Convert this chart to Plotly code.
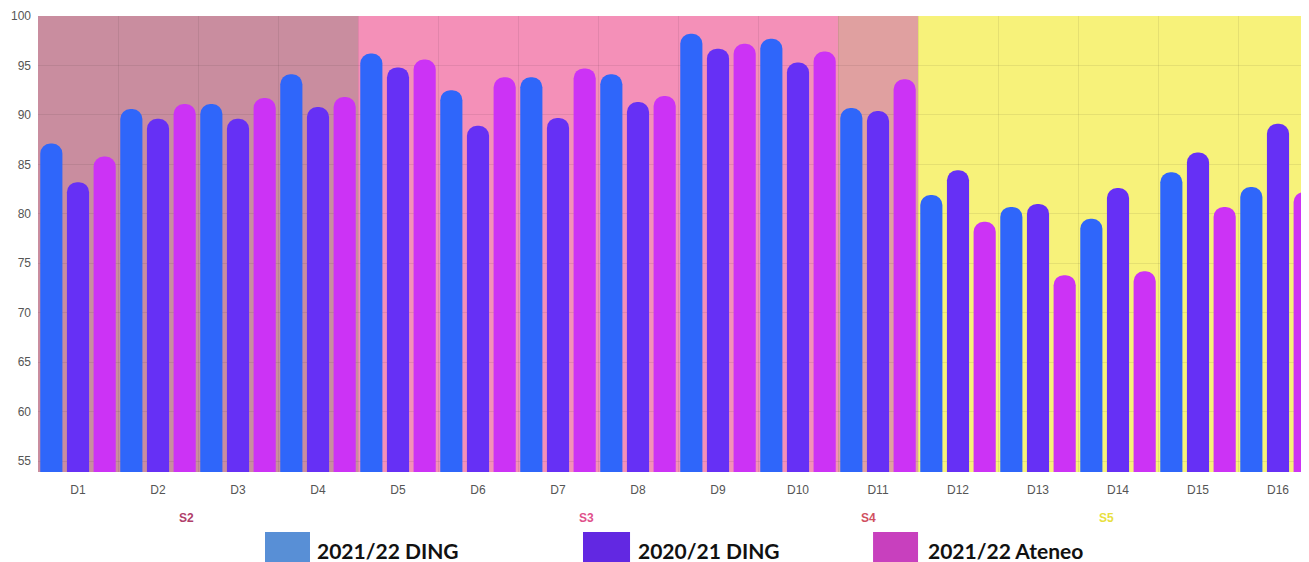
import plotly.graph_objects as go

categories = ["D1","D2","D3","D4","D5","D6","D7","D8","D9","D10","D11","D12","D13","D14","D15","D16"]
ding_2122 = [87.1, 90.6, 91.1, 94.1, 96.2, 92.5, 93.8, 94.1, 98.2, 97.7, 90.7, 81.9, 80.7, 79.5, 84.2, 82.7]
ding_2021 = [83.2, 89.6, 89.6, 90.8, 94.8, 88.9, 89.7, 91.3, 96.7, 95.3, 90.4, 84.4, 81.0, 82.6, 86.2, 89.1]
ateneo_2122 = [85.8, 91.1, 91.7, 91.8, 95.6, 93.8, 94.7, 91.9, 97.2, 96.4, 93.6, 79.2, 73.8, 74.2, 80.7, 82.2]
series_names = ["2021/22 DING", "2020/21 DING", "2021/22 Ateneo"]
sections = ["S2", "S3", "S4", "S5"]
section_spans = [(0, 3), (4, 9), (10, 10), (11, 15)]
y_ticks = [55, 60, 65, 70, 75, 80, 85, 90, 95, 100]

bar_colors = ["#2f66fa", "#6630f5", "#cc33f5"]
legend_colors = ["#588fd6", "#6228e2", "#c840be"]
band_colors = ["#c98d9f", "#f490b8", "#e0a0a0", "#f7f27a"]
section_text_colors = ["#b0406a", "#e0508a", "#d05060", "#e8e040"]

fig = go.Figure()
for name, vals, col in zip(series_names, [ding_2122, ding_2021, ateneo_2122], bar_colors):
    fig.add_trace(go.Bar(x=categories, y=vals, name=name,
                         marker=dict(color=col, cornerradius=10, line=dict(width=0)),
                         showlegend=False))

shapes = []
for (a, b), c in zip(section_spans, band_colors):
    shapes.append(dict(type="rect", xref="x", yref="paper", x0=a - 0.5, x1=b + 0.5,
                       y0=0, y1=1, fillcolor=c, line=dict(width=0), layer="below"))

annotations = []
# section labels
sec_x = [1.36, 6.36, 9.875, 12.86]
for s, xx, col in zip(sections, sec_x, section_text_colors):
    annotations.append(dict(text="<b>" + s + "</b>", x=xx, xref="x", y=-0.101, yref="paper",
                            showarrow=False, font=dict(family="Liberation Sans", size=12, color=col),
                            xanchor="center", yanchor="middle"))

# custom legend
sq = [(0.1786, 0.2140), (0.4288, 0.4658), (0.657, 0.6924)]
tx = [0.218, 0.4705, 0.6987]
for (x0, x1), t, name, col in zip(sq, tx, series_names, legend_colors):
    shapes.append(dict(type="rect", xref="paper", yref="paper", x0=x0, x1=x1,
                       y0=-0.2149, y1=-0.1316, fillcolor=col, line=dict(width=0)))
    annotations.append(dict(text="<b>" + name + "</b>", x=t, xref="paper", y=-0.173, yref="paper",
                            showarrow=False, font=dict(family="Lato", size=21, color="#111111"),
                            xanchor="left", yanchor="middle"))

fig.update_layout(
    width=1301, height=554,
    margin=dict(l=30, r=0, t=8, b=90),
    paper_bgcolor="white", plot_bgcolor="white",
    barmode="group", bargap=0.0, bargroupgap=0.17,
    shapes=shapes, annotations=annotations,
    font=dict(family="Liberation Sans", size=11, color="#555555"),
    xaxis=dict(type="category", range=[-0.5, 15.3875], tickson="boundaries",
               showgrid=True, gridcolor="rgba(0,0,0,0.07)", gridwidth=1,
               ticks="", showline=False, zeroline=False, ticklabelstandoff=9,
               tickfont=dict(size=12, color="#555555")),
    yaxis=dict(range=[53.9, 100], tickvals=y_ticks, showgrid=True,
               gridcolor="rgba(0,0,0,0.07)", zeroline=False, showline=False,
               ticks="", ticklabelstandoff=6, tickfont=dict(size=12, color="#555555")),
)

fig.write_html("out.html")
